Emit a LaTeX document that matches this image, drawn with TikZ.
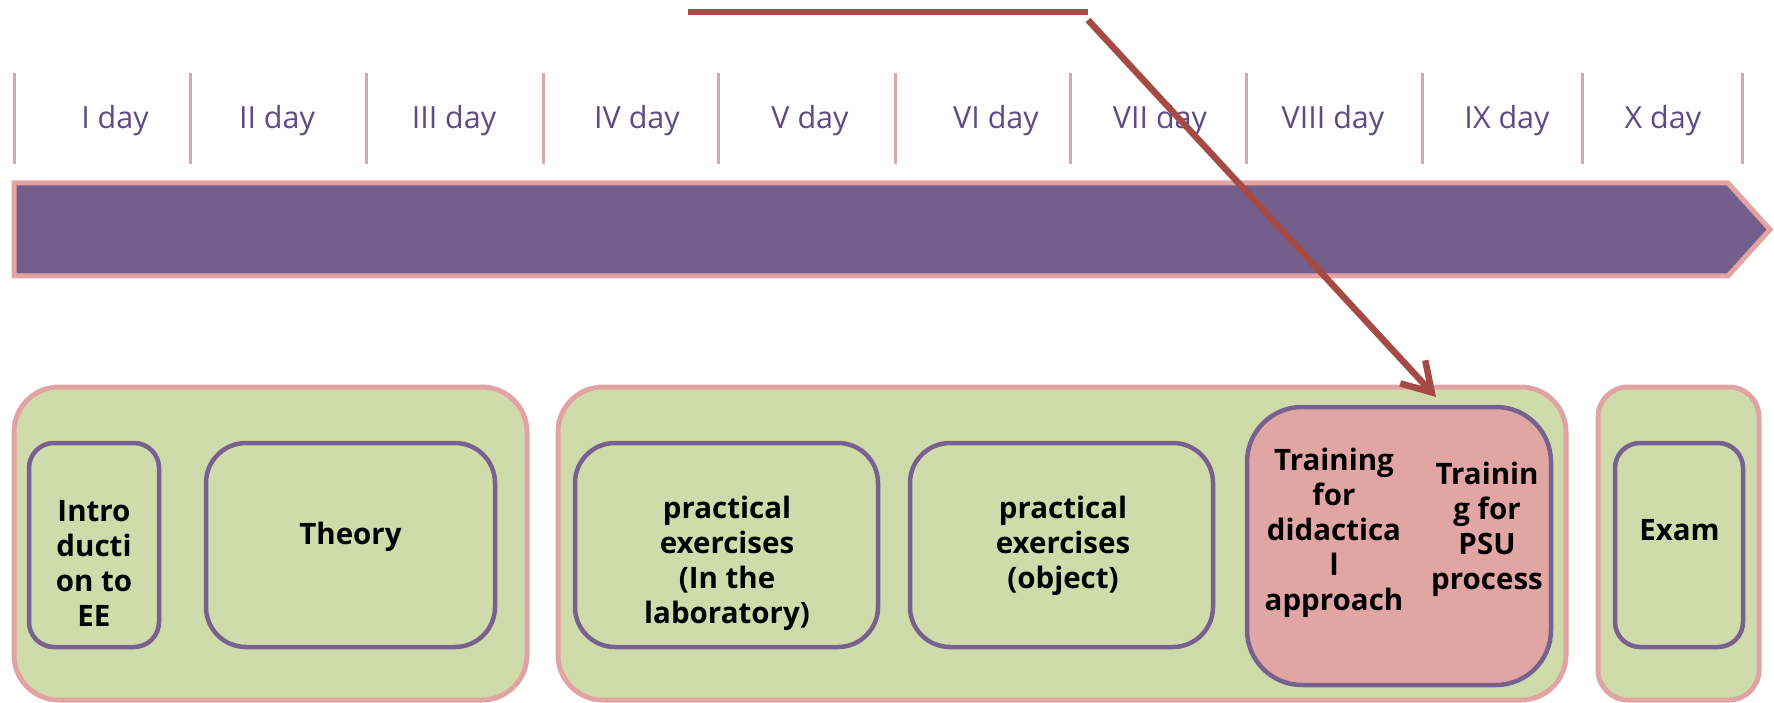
\documentclass[tikz,border=0pt]{standalone}
\usepackage{fontspec}
\setmainfont{Open Sans}
\usetikzlibrary{arrows.meta}
\definecolor{barpurple}{HTML}{745E8B}
\definecolor{pinkline}{HTML}{E2A4A3}
\definecolor{greenfill}{HTML}{CFDBAB}
\definecolor{boxpurple}{HTML}{77628F}
\definecolor{pinkfill}{HTML}{E1A5A4}
\definecolor{daytext}{HTML}{5D4A86}
\definecolor{arrowred}{HTML}{A54A44}
\tikzset{
  outerbox/.style={draw=pinkline, fill=greenfill, line width=5pt, rounded corners=45pt, inner sep=0pt},
  innerbox/.style={draw=boxpurple, fill=greenfill, line width=4.5pt, rounded corners=40pt, inner sep=0pt},
  lbl/.style={font=\fontsize{29.5}{35}\selectfont\bfseries, align=center, inner sep=0pt, text=black},
  daylbl/.style={font=\fontsize{30.5}{35}\selectfont, text=daytext, inner sep=0pt},
  tickline/.style={draw=pinkline, line width=3pt},
  conn/.style={draw=arrowred, line width=6.5pt}
}
\begin{document}
\begin{tikzpicture}[x=1pt,y=-1pt]
\useasboundingbox (0,0) rectangle (1774,703);
% ticks
\foreach \x [count=\i] in {14,190,366,543,718,895,1070,1246,1422,1582,1742}{
  \coordinate (tt\i) at (\x,73);
  \coordinate (tb\i) at (\x,164);
  \draw[tickline] (tt\i) -- (tb\i);
}
% day labels
\foreach \x/\t [count=\i] in {115/I day,277/II day,454/III day,637/IV day,810/V day,996/VI day,1160/VII day,1333/VIII day,1507/IX day,1663/X day}{
  \node[daylbl] (day\i) at (\x,121) {\t};
}
% timeline bar
\draw[fill=barpurple, draw=pinkline, line width=5pt, line join=miter]
  (14,183) -- (1728,183) -- (1770,229.5) -- (1728,276) -- (14,276) -- cycle;
% outer boxes
\node[outerbox, minimum width=513pt, minimum height=313pt] (grpA) at (270.5,543.5) {};
\node[outerbox, minimum width=1008pt, minimum height=313pt] (grpB) at (1062,543.5) {};
\node[outerbox, rounded corners=30pt, minimum width=161pt, minimum height=313pt] (grpC) at (1678.5,543.5) {};
% inner boxes
\node[innerbox, rounded corners=25pt, minimum width=130pt, minimum height=204pt] (intro) at (94,545) {};
\node[innerbox, minimum width=289pt, minimum height=204pt] (theory) at (350.5,545) {};
\node[innerbox, minimum width=303pt, minimum height=204pt] (lab) at (726.5,545) {};
\node[innerbox, minimum width=303pt, minimum height=204pt] (object) at (1061.5,545) {};
\node[innerbox, fill=pinkfill, rounded corners=55pt, minimum width=304pt, minimum height=278pt] (train) at (1399,546) {};
\node[innerbox, rounded corners=25pt, minimum width=128pt, minimum height=204pt] (exam) at (1679,545) {};
% texts
\node[lbl] (tintro) at (94,563) {Intro\\ducti\\on to\\EE};
\node[lbl] (ttheory) at (350.5,537) {Theory};
\node[lbl] (tlab) at (727,563) {practical\\exercises\\(In the\\laboratory)};
\node[lbl] (tobject) at (1063,546) {practical\\exercises\\(object)};
\node[lbl] (tdid) at (1334,533) {Training\\for\\didactica\\l\\approach};
\node[lbl] (tpsu) at (1487,529) {Trainin\\g for\\PSU\\process};
\node[lbl] (texam) at (1679.5,530) {Exam};
% connector
\coordinate (cs) at (688,12);
\coordinate (ce) at (1088,12);
\coordinate (cd) at (1088,20);
\coordinate (ctip) at (1436,397);
\draw[conn] (cs) -- (ce);
\draw[conn, -{Straight Barb[length=28pt,width=34pt]}] (cd) -- (ctip);
\end{tikzpicture}
\end{document}
